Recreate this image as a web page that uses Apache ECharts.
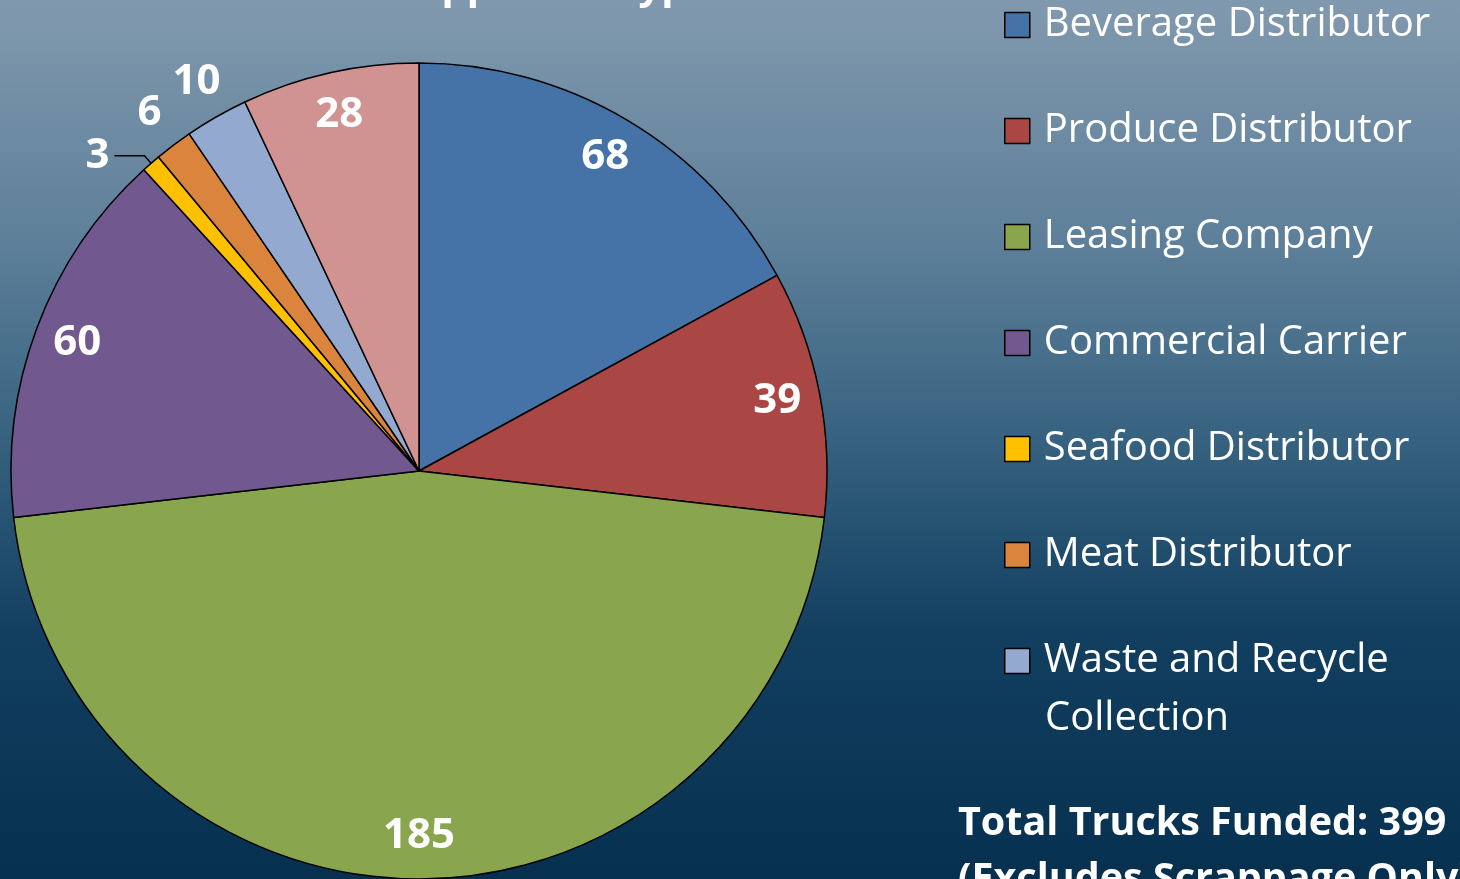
<!DOCTYPE html>
<html>
<head>
<meta charset="utf-8">
<script src="https://cdn.jsdelivr.net/npm/echarts@6/dist/echarts.min.js"></script>
<style>
html,body{margin:0;padding:0;width:1460px;height:879px;overflow:hidden;}
#chart{width:1460px;height:879px;}
</style>
</head>
<body>
<div id="chart"></div>
<script>
// ---- data ----
const categories = ['Beverage Distributor','Produce Distributor','Leasing Company','Commercial Carrier','Seafood Distributor','Meat Distributor','Waste and Recycle Collection','Other'];
const values = [68, 39, 185, 60, 3, 6, 10, 28];
const colors = ['#4572A7','#AA4643','#89A54E','#71588F','#FFC000','#DB843D','#93A9CF','#D19392'];
const legendNames = categories.slice(0, 7);
const titleText = 'Applicant Type';
const totalLabel = 'Total Trucks Funded: ';
const noteText = '(Excludes Scrappage Only)';
const smallSet = ['Meat Distributor','Waste and Recycle Collection'];
const lineLabelSet = ['Seafood Distributor'];

const total = values.reduce((a, b) => a + b, 0);
const FONT = '"Open Sans"';
const R = 408;

const baseData = categories.map((c, i) => ({ name: c, value: values[i], itemStyle: { color: colors[i] } }));

const chart = echarts.init(document.getElementById('chart'), null, { renderer: 'canvas' });
chart.setOption({
  backgroundColor: {
    type: 'linear', x: 0, y: 0, x2: 0, y2: 1,
    colorStops: [
      { offset: 0, color: '#8199ae' },
      { offset: 0.28, color: '#5d7f99' },
      { offset: 0.52, color: '#335f7d' },
      { offset: 0.72, color: '#123f60' },
      { offset: 1, color: '#07304f' }
    ]
  },
  animation: false,
  title: {
    text: titleText,
    left: 557, top: -37, textAlign: 'center',
    textStyle: { color: '#fff', fontFamily: FONT, fontWeight: 'bold', fontSize: 40 }
  },
  legend: {
    orient: 'vertical', left: 1004, top: 2, padding: 0,
    data: legendNames, icon: 'rect', itemWidth: 25, itemHeight: 25, itemGap: 60,
    selectedMode: false,
    formatter: n => n === 'Waste and Recycle Collection' ? 'Waste and Recycle' : n,
    textStyle: { color: '#fff', fontFamily: FONT, fontSize: 40, lineHeight: 46, padding: [0, 0, 0, 9] },
    itemStyle: { borderColor: '#000', borderWidth: 1.5 }
  },
  graphic: [
    { type: 'text', left: 1045, top: 696, silent: true,
      style: { text: 'Collection', fill: '#fff', font: '40px ' + FONT, lineHeight: 46 } },
    { type: 'text', left: 958, top: 796, silent: true,
      style: { text: totalLabel + total + '\n' + noteText, fill: '#fff', font: 'bold 39.5px ' + FONT, lineHeight: 56 } }
  ],
  series: [
    {
      type: 'pie', center: [419, 471], radius: R, startAngle: 90, clockwise: true,
      avoidLabelOverlap: false, silent: true,
      itemStyle: { borderColor: '#000', borderWidth: 1.5 },
      label: { show: false },
      labelLine: { show: false },
      data: baseData.map(d => lineLabelSet.includes(d.name) ? Object.assign({}, d, {
        label: { show: true, position: 'outside', formatter: '{c}', color: '#fff', fontFamily: FONT, fontWeight: 'bold', fontSize: 42, distanceToLabelLine: 5 },
        labelLine: { show: true, length: 10, length2: 30, lineStyle: { color: '#000', width: 1.5 } }
      }) : d)
    },
    {
      type: 'pie', center: [419, 471], radius: 724, startAngle: 90, clockwise: true,
      silent: true, avoidLabelOverlap: false,
      itemStyle: { color: 'rgba(0,0,0,0)', borderWidth: 0 },
      label: { show: true, position: 'inside', formatter: '{c}', color: '#fff', fontFamily: FONT, fontWeight: 'bold', fontSize: 42 },
      labelLine: { show: false },
      emphasis: { disabled: true },
      data: baseData.map(d => ({ name: d.name, value: d.value, itemStyle: { color: 'rgba(0,0,0,0)' },
        label: { show: !(smallSet.includes(d.name) || lineLabelSet.includes(d.name)) } }))
    },
    {
      type: 'pie', center: [419, 471], radius: 890, startAngle: 90, clockwise: true,
      silent: true, avoidLabelOverlap: false,
      itemStyle: { color: 'rgba(0,0,0,0)', borderWidth: 0 },
      label: { show: true, position: 'inside', formatter: '{c}', color: '#fff', fontFamily: FONT, fontWeight: 'bold', fontSize: 42 },
      labelLine: { show: false },
      emphasis: { disabled: true },
      data: baseData.map(d => ({ name: d.name, value: d.value, itemStyle: { color: 'rgba(0,0,0,0)' },
        label: { show: smallSet.includes(d.name) } }))
    }
  ]
});
</script>
</body>
</html>
